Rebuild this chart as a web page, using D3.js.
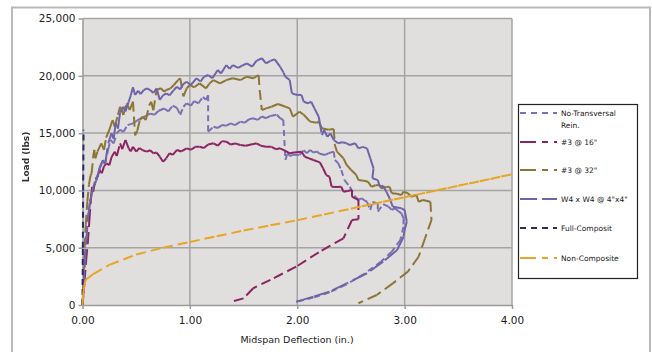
<!DOCTYPE html>
<html>
<head>
<meta charset="utf-8">
<script src="https://cdn.jsdelivr.net/npm/d3@7"></script>
<style>
  body { margin: 0; background: #fff; }
  svg { display: block; }
</style>
</head>
<body>
<div id="chart"></div>
<script>
// tick values
const xTicks = [0, 1, 2, 3, 4]
const yTicks = [0, 5000, 10000, 15000, 20000, 25000]

// series: [deflection (in.), load (lbs)]
const noTransversal = [[0,0],[0.01,1500],[0.02,3500],[0.03,5500],[0.05,7500],[0.07,9000],[0.1,10200],[0.13,10900],[0.16,11900],[0.19,12600],[0.21,12300],[0.24,13600],[0.26,14400],[0.29,14100],[0.32,15000],[0.35,15300],[0.38,15100],[0.42,15700],[0.47,15850],[0.51,16100],[0.55,16300],[0.59,16500],[0.63,16700],[0.67,16600],[0.71,16950],[0.76,17150],[0.80,16900],[0.84,17400],[0.88,17200],[0.91,16600],[0.94,17300],[0.97,17600],[1.01,17400],[1.04,17800],[1.08,17600],[1.12,18150],[1.15,17900],[1.17,18300],[1.17,15120],[1.22,15560],[1.26,15450],[1.30,15700],[1.34,15650],[1.38,15850],[1.42,15700],[1.47,16000],[1.51,15900],[1.55,16200],[1.59,16300],[1.63,16150],[1.67,16450],[1.71,16300],[1.75,16500],[1.81,16600],[1.84,16300],[1.87,16140],[1.89,12650],[1.91,13300],[1.93,13000],[1.96,13100],[2.02,13090],[2.06,13500],[2.09,13250],[2.12,13530],[2.15,13300],[2.18,13400],[2.21,13200],[2.26,13090],[2.29,13240],[2.34,13380],[2.35,12650],[2.38,12400],[2.41,11780],[2.44,10900],[2.49,10320],[2.54,9450],[2.57,9200],[2.60,9310],[2.63,9100],[2.65,9010],[2.68,8290],[2.70,9000],[2.75,8870],[2.75,8150],[2.80,8800],[2.85,8580],[2.88,8300],[2.91,8440],[2.94,8200],[2.97,8000],[2.99,7560],[2.99,6830],[2.96,5670],[2.88,4650],[2.78,3780],[2.62,2700],[2.45,1750],[2.30,1100],[2.15,650],[2.05,420],[1.99,290]]

const bar3at16 = [[0,0],[0.01,1000],[0.02,2200],[0.035,4000],[0.05,5500],[0.065,7500],[0.08,9500],[0.09,10300],[0.1,9900],[0.12,11000],[0.14,11200],[0.16,11780],[0.18,11500],[0.2,12100],[0.225,12360],[0.25,12200],[0.27,12900],[0.30,13380],[0.32,13000],[0.35,14110],[0.37,13600],[0.40,14400],[0.43,13670],[0.45,13400],[0.47,13810],[0.50,13380],[0.53,13700],[0.56,13500],[0.60,13380],[0.63,13500],[0.66,13240],[0.69,13300],[0.72,12940],[0.75,12500],[0.78,12800],[0.81,13240],[0.84,13100],[0.88,13530],[0.92,13400],[0.97,13670],[1.01,13550],[1.05,13800],[1.09,13810],[1.13,13700],[1.17,14000],[1.22,14110],[1.26,13900],[1.30,14300],[1.34,14250],[1.38,14000],[1.42,14100],[1.47,13960],[1.52,13900],[1.57,14000],[1.62,14110],[1.66,13900],[1.71,13810],[1.76,13800],[1.80,13600],[1.84,13670],[1.89,13450],[1.93,13240],[1.97,13300],[2.04,13380],[2.07,12940],[2.11,12800],[2.15,12650],[2.21,12450],[2.24,11930],[2.27,11340],[2.30,11200],[2.32,10320],[2.37,10300],[2.41,10320],[2.43,9890],[2.47,9950],[2.51,10030],[2.51,9450],[2.54,9300],[2.57,9160],[2.57,7480],[2.51,7420],[2.43,5820],[2.2,4600],[1.99,3340],[1.75,2200],[1.59,1460],[1.50,580],[1.39,290]]

const bar3at32 = [[0,0],[0.01,2500],[0.02,5000],[0.03,7000],[0.045,9000],[0.06,10500],[0.075,11300],[0.085,11500],[0.10,13000],[0.11,13530],[0.12,12800],[0.14,13400],[0.175,14110],[0.2,13530],[0.22,14600],[0.25,15270],[0.28,16140],[0.30,15560],[0.33,16600],[0.35,17300],[0.365,17020],[0.38,16580],[0.41,17600],[0.44,17020],[0.47,17740],[0.49,14800],[0.51,15200],[0.535,16140],[0.56,16430],[0.59,16140],[0.62,17400],[0.64,17740],[0.66,17000],[0.69,18760],[0.73,18910],[0.76,18620],[0.78,18760],[0.82,18900],[0.85,19200],[0.89,19630],[0.91,19780],[0.94,18200],[0.97,18900],[1.0,19200],[1.04,19000],[1.09,19340],[1.15,18900],[1.18,19300],[1.22,19630],[1.28,19340],[1.34,19630],[1.40,19780],[1.47,19630],[1.53,19920],[1.59,19780],[1.64,20070],[1.65,18760],[1.67,17020],[1.71,17160],[1.76,17300],[1.82,17540],[1.89,17300],[1.93,17160],[1.96,16430],[2.02,16870],[2.06,16600],[2.12,16000],[2.18,15900],[2.20,16000],[2.23,15420],[2.29,15300],[2.34,15360],[2.35,13960],[2.37,13380],[2.43,12800],[2.46,12220],[2.50,11800],[2.55,11340],[2.57,10900],[2.62,10850],[2.66,10760],[2.69,10320],[2.73,10450],[2.77,10470],[2.78,10180],[2.83,10300],[2.86,10320],[2.88,9750],[2.93,9700],[2.97,9600],[2.99,9890],[3.03,9750],[3.06,9450],[3.11,9600],[3.13,9010],[3.17,9160],[3.24,9010],[3.25,7420],[3.19,5820],[3.13,4210],[3.03,2910],[2.89,1890],[2.74,870],[2.57,150]]

const w4xw4 = [[0,0],[0.01,1500],[0.02,3500],[0.035,5500],[0.05,7500],[0.07,9000],[0.1,10300],[0.13,10900],[0.16,12000],[0.19,12650],[0.21,12300],[0.24,14110],[0.27,14980],[0.29,14500],[0.31,15900],[0.33,15400],[0.35,16800],[0.38,17300],[0.40,16900],[0.43,17740],[0.45,18300],[0.47,19000],[0.49,18330],[0.52,18700],[0.54,18400],[0.57,18760],[0.60,18910],[0.63,18760],[0.66,18500],[0.69,18900],[0.72,17900],[0.75,18300],[0.78,18470],[0.81,18300],[0.85,18760],[0.88,19050],[0.91,18800],[0.94,19300],[0.97,19480],[1.01,19200],[1.06,19780],[1.10,19500],[1.13,19900],[1.17,20070],[1.21,19800],[1.26,20510],[1.29,20200],[1.34,20940],[1.37,20600],[1.40,20940],[1.45,20700],[1.49,20900],[1.53,21090],[1.58,20800],[1.62,21300],[1.67,21530],[1.71,21090],[1.75,21300],[1.79,21440],[1.84,20800],[1.87,20300],[1.89,19920],[1.93,19630],[1.95,18470],[2.00,18330],[2.04,18330],[2.06,17740],[2.10,17600],[2.13,17740],[2.16,17160],[2.20,16430],[2.23,14830],[2.25,15270],[2.28,14680],[2.31,14980],[2.34,14400],[2.38,14110],[2.42,14200],[2.46,14110],[2.49,13960],[2.54,14110],[2.57,13670],[2.61,13800],[2.65,13670],[2.68,12800],[2.71,11930],[2.70,11060],[2.75,10900],[2.77,10320],[2.80,10400],[2.83,9890],[2.86,9310],[2.89,8580],[2.93,8500],[2.97,8440],[3.0,8290],[3.02,7270],[3.0,6540],[2.99,5960],[2.93,4800],[2.80,3780],[2.65,2770],[2.46,1890],[2.30,1160],[2.15,730],[2.05,450],[1.99,290]]

const fullComposite = [[0,0],[0.003,5000],[0.006,10000],[0.01,15300]]

const nonComposite = [[0,0],[0.005,800],[0.015,1600],[0.03,2200],[0.1,2700],[0.25,3500],[0.5,4400],[0.75,5000],[1.0,5500],[1.25,6000],[1.5,6500],[1.75,6950],[2.0,7400],[2.25,7900],[2.5,8400],[2.6,8620],[2.7,8800],[2.8,9010],[2.9,9200],[3.0,9400],[3.1,9610],[3.2,9800],[3.3,10010],[3.4,10200],[3.5,10400],[3.6,10610],[3.7,10800],[3.8,11000],[3.9,11210],[4.0,11400]]

const seriesNames = ['No-Transversal\nRein.', '#3 @ 16"', '#3 @ 32"', 'W4 x W4  @ 4"x4"', 'Full-Composit', 'Non-Composite']
const seriesData = [noTransversal, bar3at16, bar3at32, w4xw4, fullComposite, nonComposite]
const seriesColors = ['#7a70b2', '#8c2462', '#8c7637', '#6f64a8', '#2b2b68', '#e8a424']
const seriesDash = ['6,4', '10,5', '10,5', '16,5', '6,4', '10,5']
const legendDash = ['6,5', '16,6,6,6,3', '16,6,6,6,3', '17,5,16', '6,5', '16,6,6,6,3']

const width = 652
const height = 352
const plot = {left: 82.5, right: 512, top: 18.5, bottom: 305}

const svg = d3.select('#chart')
  .append('svg')
    .attr('width', width)
    .attr('height', height)

// outer chart frame
svg.append('rect')
  .attr('x', 12).attr('y', 7.5)
  .attr('width', 638).attr('height', 360)
  .attr('fill', '#fff')
  .attr('stroke', '#b9b9b9')
  .attr('stroke-width', 2)

const x = d3.scaleLinear().domain([0, 4]).range([plot.left, plot.right])
const y = d3.scaleLinear().domain([0, 25000]).range([plot.bottom, plot.top])

// plot background
svg.append('rect')
  .attr('x', plot.left).attr('y', plot.top)
  .attr('width', plot.right - plot.left)
  .attr('height', plot.bottom - plot.top)
  .attr('fill', '#e0dfde')

// gridlines
svg.append('g')
  .selectAll('line')
  .data(yTicks.slice(1))
  .join('line')
    .attr('x1', plot.left).attr('x2', plot.right)
    .attr('y1', d => y(d)).attr('y2', d => y(d))
    .attr('stroke', '#a4a4a4')
    .attr('stroke-width', 1.5)

svg.append('g')
  .selectAll('line')
  .data(xTicks.slice(1))
  .join('line')
    .attr('x1', d => x(d)).attr('x2', d => x(d))
    .attr('y1', plot.top).attr('y2', plot.bottom)
    .attr('stroke', '#a4a4a4')
    .attr('stroke-width', 1.5)

// axes
const yAxis = svg.append('g')
  .attr('transform', 'translate(' + plot.left + ',0)')
  .call(d3.axisLeft(y).tickValues(yTicks).tickFormat(d3.format(',')).tickSize(4).tickSizeOuter(0).tickPadding(3))

const xAxis = svg.append('g')
  .attr('transform', 'translate(0,' + plot.bottom + ')')
  .call(d3.axisBottom(x).tickValues(xTicks).tickFormat(d3.format('.2f')).tickSize(4).tickSizeOuter(0).tickPadding(8))

;[yAxis, xAxis].forEach(a => {
  a.select('.domain').attr('stroke', '#9a9a9a').attr('stroke-width', 1.5)
  a.selectAll('.tick line').attr('stroke', '#9a9a9a').attr('stroke-width', 1.5)
  a.selectAll('text')
    .attr('fill', '#222')
    .style('font-family', 'DejaVu Sans, Verdana, sans-serif')
    .style('font-size', '10.5px')
})

// axis titles
svg.append('text')
  .attr('x', 297).attr('y', 343)
  .attr('text-anchor', 'middle')
  .attr('fill', '#222')
  .style('font-family', 'DejaVu Sans, Verdana, sans-serif')
  .style('font-size', '9.5px')
  .text('Midspan Deflection (in.)')

const blur = svg.append('defs').append('filter').attr('id', 'soft')
blur.append('feGaussianBlur').attr('stdDeviation', 0.6)

svg.append('text')
  .attr('transform', 'translate(29,157) rotate(-90)')
  .attr('text-anchor', 'middle')
  .attr('fill', '#333')
  .attr('filter', 'url(#soft)')
  .style('font-family', 'DejaVu Sans, Verdana, sans-serif')
  .style('font-size', '9px')
  .style('font-weight', 'bold')
  .text('Load (lbs)')

// series: every segment restarts its dash pattern, so dense data looks solid
const lines = svg.append('g')
seriesData.forEach((pts, i) => {
  const segs = d3.pairs(pts)
  lines.append('g')
    .selectAll('line')
    .data(segs)
    .join('line')
      .attr('x1', d => x(d[0][0])).attr('y1', d => y(d[0][1]))
      .attr('x2', d => x(d[1][0])).attr('y2', d => y(d[1][1]))
      .attr('stroke', seriesColors[i])
      .attr('stroke-width', 2)
      .attr('stroke-dasharray', seriesDash[i])
      .attr('stroke-linecap', 'butt')
})

// legend
const legend = svg.append('g')
legend.append('rect')
  .attr('x', 518.5).attr('y', 104.5)
  .attr('width', 119).attr('height', 174)
  .attr('fill', '#fff')
  .attr('stroke', '#222')
  .attr('stroke-width', 1.2)

const legendY = [113, 142, 170, 199, 228, 258]
seriesNames.forEach((name, i) => {
  const g = legend.append('g').attr('transform', 'translate(0,' + legendY[i] + ')')
  g.append('line')
    .attr('x1', 520).attr('x2', 557)
    .attr('stroke', seriesColors[i])
    .attr('stroke-width', 2)
    .attr('stroke-dasharray', legendDash[i])
  const t = g.append('text')
    .attr('fill', '#222')
    .style('font-family', 'DejaVu Sans, Verdana, sans-serif')
    .style('font-size', '7.5px')
  name.split('\n').forEach((s, j) => {
    t.append('tspan').attr('x', 561).attr('y', 3 + j * 12).text(s)
  })
})
</script>
</body>
</html>
